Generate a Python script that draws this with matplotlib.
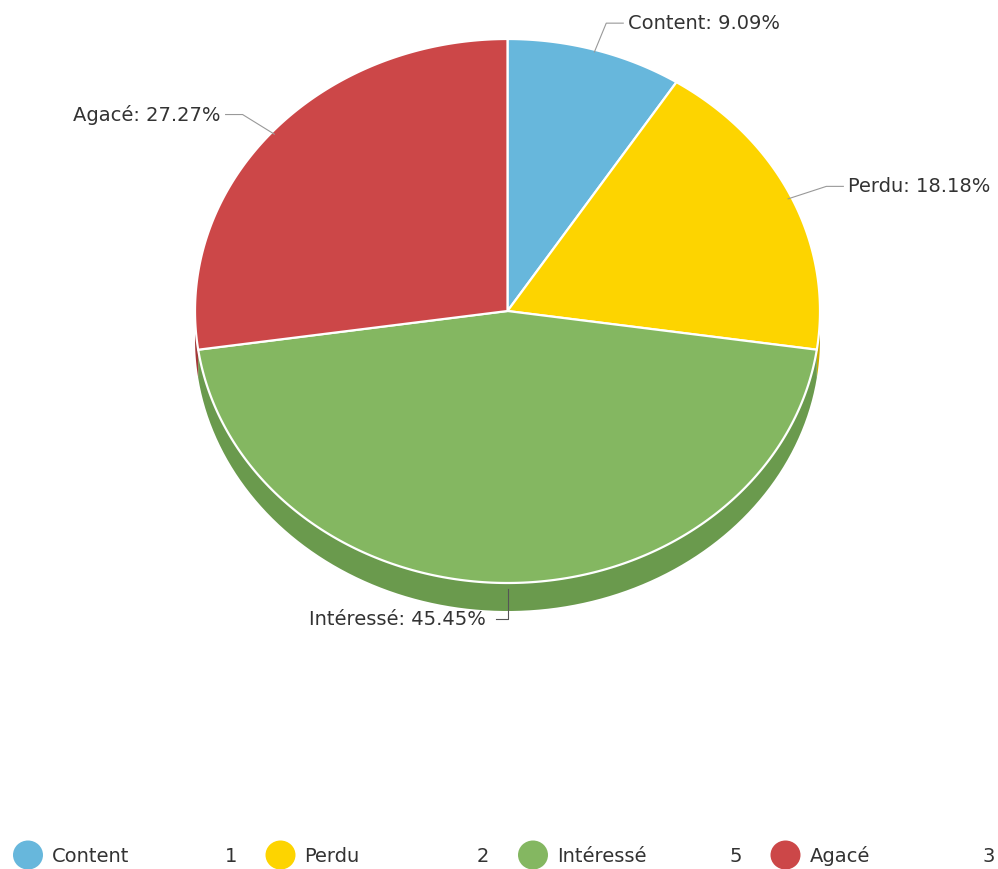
import numpy as np
import matplotlib.pyplot as plt
from matplotlib.patches import Polygon, Ellipse

labels = ["Content", "Perdu", "Intéressé", "Agacé"]
values = [1, 2, 5, 3]
colors = ["#67b7dc", "#fdd400", "#84b761", "#cc4748"]
side_colors = ["#5293b2", "#c9a900", "#6a9a4d", "#a33939"]

W, H = 998, 870
fig = plt.figure(figsize=(W / 100, H / 100), dpi=100)
ax = fig.add_axes([0, 0, 1, 1])
ax.set_xlim(0, W)
ax.set_ylim(H, 0)
ax.axis("off")

# géométrie du camembert (pixels)
cx, cy = 507.5, 312
rx, ry = 312.5, 272
depth = 28


def pt(theta, dx=0, dy=0, off=0):
    # angle en degrés depuis midi, sens horaire
    t = np.radians(theta)
    return cx + (rx + dx) * np.sin(t), cy - (ry + dy) * np.cos(t) + off


total = sum(values)
bounds = np.concatenate([[0], np.cumsum(values) / total * 360])

# faces latérales (partie visible entre 90 et 270 degrés)
for i in range(len(values)):
    a0, a1 = max(bounds[i], 90), min(bounds[i + 1], 270)
    if a1 <= a0:
        continue
    th = np.linspace(a0, a1, 100)
    top = [pt(t) for t in th]
    bot = [pt(t, off=depth) for t in th[::-1]]
    ax.add_patch(Polygon(top + bot, closed=True, fc=side_colors[i], ec="none", zorder=1))

# faces du dessus
for i in range(len(values)):
    th = np.linspace(bounds[i], bounds[i + 1], 200)
    poly = [(cx, cy)] + [pt(t) for t in th]
    ax.add_patch(Polygon(poly, closed=True, fc=colors[i], ec="white", lw=1.6,
                         joinstyle="round", zorder=2))

# étiquettes
fs = 14
tcol = "#333333"
bl = 5  # décalage de la ligne de base
for i in range(len(values)):
    mid = (bounds[i] + bounds[i + 1]) / 2
    pct = values[i] / total * 100
    txt = f"{labels[i]}: {pct:.2f}%"
    s = np.sin(np.radians(mid))
    c = np.cos(np.radians(mid))
    if c < -0.99:
        # étiquette du bas
        x0, y0 = pt(mid, off=depth - 22)
        x1, y1 = x0, y0 + 30
        x2 = x1 - 12
        ax.plot([x0, x1, x2], [y0, y1, y1], color="#555555", lw=0.8, zorder=3)
        ax.text(x2 - 10, y1 + bl, txt, ha="right", va="baseline", fontsize=fs,
                color=tcol, zorder=4)
        continue
    x0, y0 = pt(mid, dx=-4, dy=-2)
    x1, y1 = pt(mid, dx=38, dy=28)
    sgn = 1 if s >= 0 else -1
    x2 = x1 + sgn * 17
    ax.plot([x0, x1, x2], [y0, y1, y1], color="#999999", lw=0.8, zorder=3)
    ax.text(x2 + sgn * 5, y1 + bl, txt, ha="left" if sgn > 0 else "right",
            va="baseline", fontsize=fs, color=tcol, zorder=4)

# légende
ly = 856
step = 252.5
for i in range(len(values)):
    x = 28 + i * step
    ax.add_patch(Ellipse((x, ly), 30, 29, fc=colors[i], ec="none"))
    ax.text(x + 24, ly + 6, labels[i], ha="left", va="baseline", fontsize=fs, color=tcol)
    ax.text(x + 209, ly + 6, str(values[i]), ha="right", va="baseline", fontsize=fs,
            color=tcol)

fig.savefig("out.png", dpi=100)
